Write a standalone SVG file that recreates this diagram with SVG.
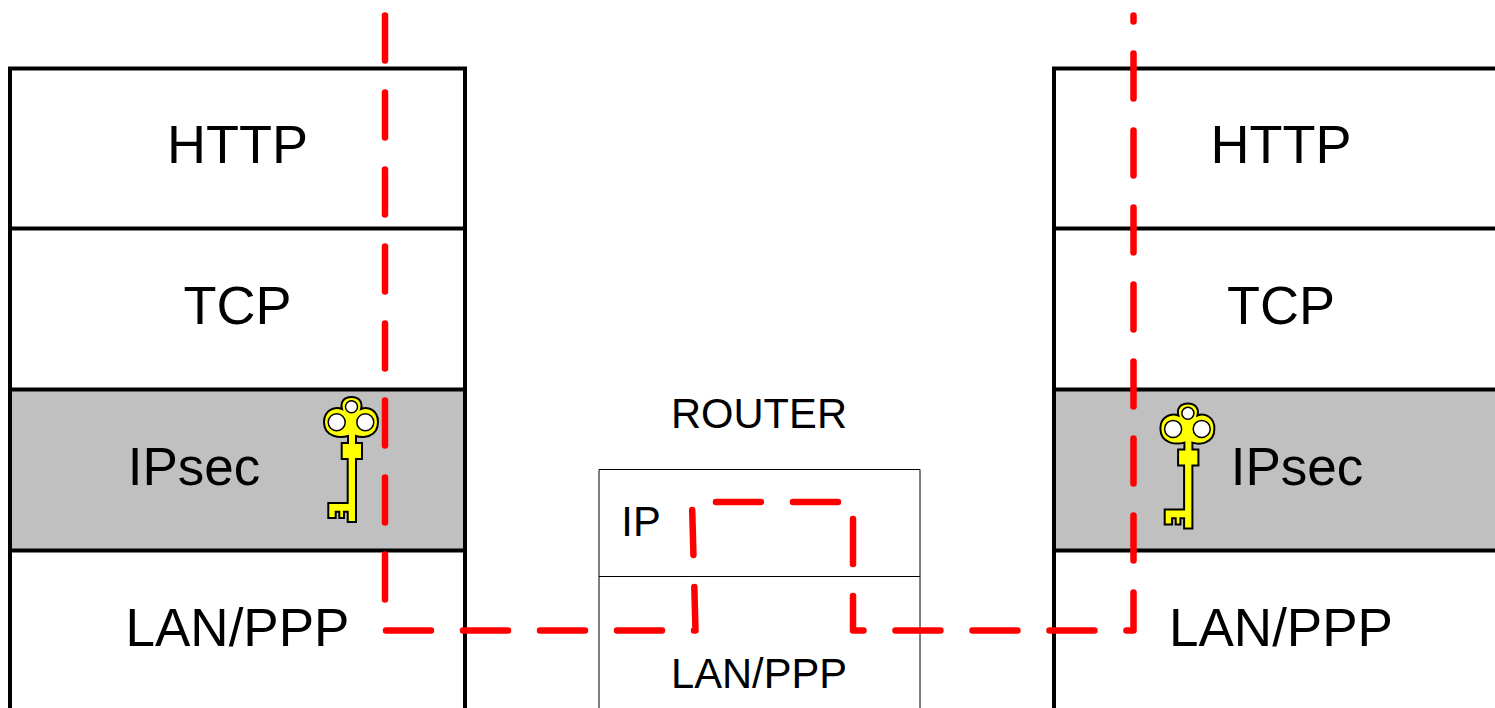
<svg xmlns="http://www.w3.org/2000/svg" width="1495" height="708" viewBox="0 0 1495 708">
<style>
.bx{fill:none;stroke:#000;stroke-width:4}
.gr{fill:#c0c0c0;stroke:none}
.th{fill:none;stroke:#000;stroke-width:1}
text{font-family:"Liberation Sans",Arial,sans-serif;fill:#000}
.l{font-size:54px;text-anchor:middle}
.m{font-size:53px;text-anchor:middle}
.s{font-size:41.700px;text-anchor:middle}
.k{fill:#ff0;stroke:#000;stroke-width:2;stroke-linejoin:miter}
.h{fill:#fff;stroke:#000;stroke-width:1.500}
.c{fill:none;stroke:#f00;stroke-width:6.500;stroke-linecap:round;stroke-linejoin:round;stroke-dasharray:45 32}
</style>
<defs>
<g id="key">
<path class="k" d="M348 436C341 438 324 438 324 422C324 410 335 406 342 409C340 402 344 397 351.500 397C359 397 363 402 361 409C368 406 378 410 378 422C378 438 362 438 356 436V443H362V459H356V522H347.700V511.700H344V518H339.300V511.700H335.700V518H328.300V503H347.700V459H341.700V443H348Z"/>
<circle class="h" cx="351.500" cy="406.700" r="6"/>
<circle class="h" cx="336.700" cy="422.300" r="8.500"/>
<circle class="h" cx="365.300" cy="422.300" r="8.500"/>
</g>
</defs>
<g id="left-stack">
<rect class="gr" x="10" y="389" width="455" height="161"/>
<path class="bx" d="M10 708V68.500H465V708M10 228.500H465M10 389.500H465M10 550.500H465"/>
<text class="l" x="237.500" y="163">HTTP</text>
<text class="l" x="237.500" y="324">TCP</text>
<text class="m" x="194" y="485">IPsec</text>
<text class="m" x="237.500" y="646">LAN/PPP</text>
<use href="#key"/>
</g>
<g id="router">
<path class="th" d="M599 708V469.500H920V708M599 576.500H920"/>
<text class="s" x="759" y="428">ROUTER</text>
<text class="s" x="641" y="536">IP</text>
<text class="s" x="759" y="688">LAN/PPP</text>
</g>
<g id="right-stack">
<rect class="gr" x="1054" y="389" width="441" height="161"/>
<path class="bx" d="M1054 708V68.500H1497M1054 228.500H1497M1054 389.500H1497M1054 550.500H1497"/>
<text class="l" x="1281" y="163">HTTP</text>
<text class="l" x="1281" y="324">TCP</text>
<text class="m" x="1297" y="485">IPsec</text>
<text class="m" x="1281" y="646">LAN/PPP</text>
<use href="#key" x="836.400" y="6.600"/>
</g>
<g id="connectors">
<path class="c" d="M385 15.500V630.500H695.500L692 502H853V630.500H1133.500V15.500"/>
</g>
</svg>
